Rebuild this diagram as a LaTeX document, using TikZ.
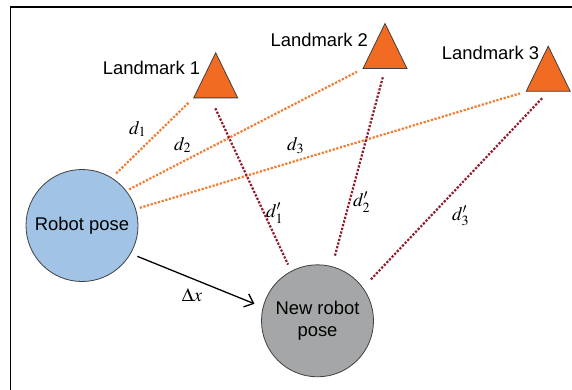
\documentclass[tikz,border=0pt]{standalone}
\usepackage{mathptmx}
\usepackage[no-math]{fontspec}
\setmainfont{Liberation Sans}
\usetikzlibrary{shapes.geometric,arrows.meta}
\definecolor{lmorange}{HTML}{F26B22}
\definecolor{dotorange}{HTML}{F47B2F}
\definecolor{dotred}{HTML}{8E1C2E}
\definecolor{posebl}{HTML}{A0C3E6}
\definecolor{posegr}{HTML}{A4A6A7}
\begin{document}
\begin{tikzpicture}[>={Straight Barb[length=4pt,width=7pt]},x=0.5pt,y=-0.5pt,
    pose/.style={circle,draw=black!75,thin,minimum size=56pt,inner sep=0pt,align=center,font=\fontsize{9.2}{10.7}\selectfont},
    lmark/.style={isosceles triangle,isosceles triangle apex angle=52,shape border rotate=90,draw=black!75,thin,fill=lmorange,minimum width=22pt,minimum height=22pt,inner sep=0pt},
    lmlabel/.style={font=\fontsize{9.2}{11}\selectfont},
    dlabel/.style={font=\fontsize{9.5}{11}\selectfont},
    farline/.style={dotorange,line width=1.1pt,dash pattern=on 1.1pt off 0.8pt},
    nearline/.style={dotred,line width=1.1pt,dash pattern=on 1.1pt off 0.8pt}]
    \useasboundingbox (0,0) rectangle (572,390);
    \draw[line width=0.75pt] (10.7,390) -- (10.7,7) -- (572,7);
    \node[lmark,anchor=lower side] (lm1) at (215.7,98.3) {};
    \node[lmark,anchor=lower side] (lm2) at (385,69) {};
    \node[lmark,anchor=lower side] (lm3) at (548.2,91.7) {};
    \node[lmlabel] (lm1txt) at (151.5,68.3) {Landmark 1};
    \node[lmlabel] (lm2txt) at (319.3,40) {Landmark 2};
    \node[lmlabel] (lm3txt) at (490.5,53.3) {Landmark 3};
    \node[pose,fill=posebl] (robot) at (82,225.5) {Robot pose};
    \node[pose,fill=posegr] (newpose) at (317.5,320.8) {New robot\\pose};
    \draw[farline,shorten <=3pt,shorten >=3pt] (robot.58) -- (lm1.left corner);
    \draw[farline,shorten <=1.5pt,shorten >=3pt] (robot.38) -- (lm2.left corner);
    \draw[farline,shorten <=2pt,shorten >=3pt] (robot.17) -- (lm3.left corner);
    \draw[nearline,shorten <=5.5pt,shorten >=3.5pt] ([xshift=-2.5pt]lm1.lower side) -- (newpose.118);
    \draw[nearline,shorten <=4.3pt,shorten >=5.2pt] (lm2.lower side) -- (newpose.75);
    \draw[nearline,shorten <=4.5pt,shorten >=5.4pt] (lm3.lower side) -- (newpose.36);
    \draw[->,line width=0.65pt,shorten <=3.5pt,shorten >=4.5pt] (robot.-30) -- (newpose.166);
    \node[dlabel] (d1) at (138,129) {$d_1$};
    \node[dlabel] (d2) at (183,145) {$d_2$};
    \node[dlabel] (d3) at (296,146) {$d_3$};
    \node[dlabel] (d1p) at (275,213) {$d'_1$};
    \node[dlabel] (d2p) at (362,202) {$d'_2$};
    \node[dlabel] (d3p) at (461,216) {$d'_3$};
    \node[dlabel] (dx) at (192,295) {$\Delta x$};
\end{tikzpicture}
\end{document}
